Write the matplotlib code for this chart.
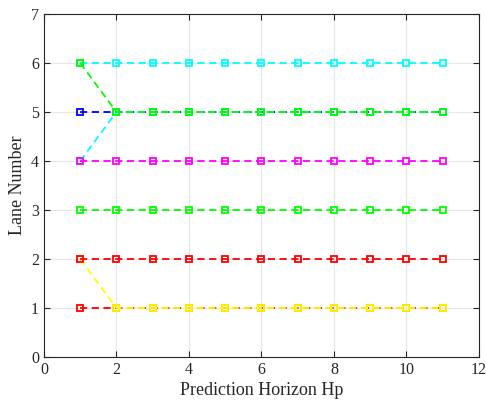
#
# Lane assignment over the prediction horizon
#

import matplotlib
matplotlib.use('Agg')
import matplotlib.pyplot as plt

horizon = list(range(1, 12))

# lane of each vehicle at every step (drawing order matters: later on top)
lane1_red = [1] * 11
lane5_blue = [5] * 11
lane6_cyan = [6] * 11
yellow_merge = [2] + [1] * 10
cyan_merge = [4] + [5] * 10
green_merge = [6] + [5] * 10
lane2_red = [2] * 11
lane3_green = [3] * 11
lane4_magenta = [4] * 11

series = [
    (lane1_red, 'r'),
    (lane5_blue, 'b'),
    (lane6_cyan, 'c'),
    (yellow_merge, 'y'),
    (cyan_merge, 'c'),
    (green_merge, 'g'),
    (lane2_red, 'r'),
    (lane3_green, 'g'),
    (lane4_magenta, 'm'),
]
colours = {'r': '#ff0000', 'g': '#00ff00', 'b': '#0000ff',
           'c': '#00ffff', 'm': '#ff00ff', 'y': '#ffff00'}

plt.rcParams['font.family'] = ['Liberation Serif', 'DejaVu Serif']

fig = plt.figure(figsize=(4.86, 4.05), dpi=100)
ax = fig.add_axes([0.0905, 0.1185, 0.895, 0.847])

for lanes, c in series:
    ax.plot(horizon, lanes, '--s', color=colours[c], markersize=5,
            markerfacecolor='none', markeredgewidth=1.3, linewidth=1.3,
            dashes=(4, 2.5))

ax.set_xlim(0, 12)
ax.set_ylim(0, 7)
ax.set_xticks(range(0, 13, 2))
ax.set_yticks(range(0, 8))
ax.grid(True, color='#e6e6e6', linewidth=0.8)
ax.set_axisbelow(True)
ax.tick_params(direction='in', top=True, right=True, labelsize=11.5,
               colors='#262626', length=4)
for s in ax.spines.values():
    s.set_color('#262626')
ax.set_xlabel('Prediction Horizon Hp', fontsize=13, color='#262626', labelpad=3)
ax.set_ylabel('Lane Number', fontsize=13, color='#262626')

fig.savefig('out.png', dpi=100)
